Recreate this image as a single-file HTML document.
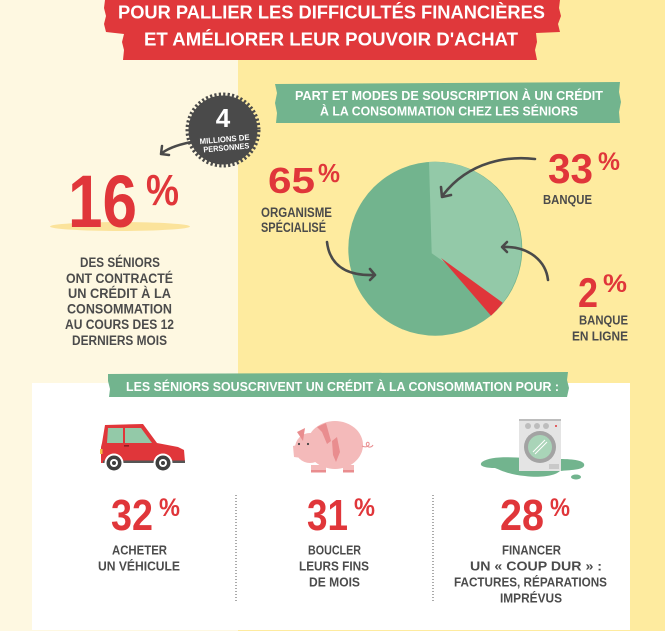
<!DOCTYPE html>
<html><head><meta charset="utf-8">
<style>
html,body{margin:0;padding:0;background:#FEF8E1;}
svg{display:block;}
text{font-family:"Liberation Sans","DejaVu Sans",sans-serif;font-weight:bold;}
.g{fill:#4B4B4B;}
.r{fill:#E0363A;}
.w{fill:#FFFFFF;}
</style></head>
<body>
<svg width="665" height="631" viewBox="0 0 665 631" xmlns="http://www.w3.org/2000/svg">
<!-- backgrounds -->
<rect x="0" y="0" width="665" height="631" fill="#FEEB9F"/>
<rect x="0" y="0" width="238" height="631" fill="#FEF8E1"/>

<!-- title banner -->
<path d="M105,0 L560,0 L559,8 L561,16 L558,24 L560,32 L536,33 L537,42 L535,50 L537,60 L123,60 L124,50 L122,42 L124,34 L106,32 L104,24 L106,16 L104,8 Z" fill="#E0383B"/>
<text class="w" x="118" y="18.5" font-size="18" textLength="427" lengthAdjust="spacingAndGlyphs">POUR PALLIER LES DIFFICULTÉS FINANCIÈRES</text>
<text class="w" x="144" y="45.5" font-size="18" textLength="374" lengthAdjust="spacingAndGlyphs">ET AMÉLIORER LEUR POUVOIR D'ACHAT</text>

<!-- badge -->
<circle cx="223" cy="130" r="34.5" fill="#4A4A4A"/>
<circle cx="223" cy="130" r="35.5" fill="none" stroke="#4A4A4A" stroke-width="4" stroke-dasharray="2.2 2.2"/>
<text class="w" x="223" y="127" font-size="26" text-anchor="middle">4</text>
<g transform="rotate(-5 225 144)">
<text class="w" x="225" y="142" font-size="8" text-anchor="middle" textLength="50" lengthAdjust="spacingAndGlyphs">MILLIONS DE</text>
<text class="w" x="226" y="150.5" font-size="8" text-anchor="middle" textLength="46" lengthAdjust="spacingAndGlyphs">PERSONNES</text>
</g>
<!-- badge arrow -->
<path d="M197,141 C185,143 170,147 162,153" fill="none" stroke="#4A4A4A" stroke-width="2.5" stroke-linecap="round"/>
<path d="M162,146 L161,154 L169,155" fill="none" stroke="#4A4A4A" stroke-width="2.5" stroke-linecap="round" stroke-linejoin="round"/>

<!-- 16% -->
<ellipse cx="120" cy="226.5" rx="70" ry="4.5" fill="#FBE39B"/>
<text class="r" x="68" y="227" font-size="74" textLength="69" lengthAdjust="spacingAndGlyphs">16</text>
<text class="r" x="146" y="205" font-size="44" textLength="33" lengthAdjust="spacingAndGlyphs">%</text>

<text class="g" x="120" y="267" font-size="13.5" text-anchor="middle" textLength="80" lengthAdjust="spacingAndGlyphs">DES SÉNIORS</text>
<text class="g" x="119.5" y="283" font-size="13.5" text-anchor="middle" textLength="107" lengthAdjust="spacingAndGlyphs">ONT CONTRACTÉ</text>
<text class="g" x="119.5" y="298" font-size="13.5" text-anchor="middle" textLength="103" lengthAdjust="spacingAndGlyphs">UN CRÉDIT À LA</text>
<text class="g" x="119.5" y="313.5" font-size="13.5" text-anchor="middle" textLength="105" lengthAdjust="spacingAndGlyphs">CONSOMMATION</text>
<text class="g" x="119.5" y="329" font-size="13.5" text-anchor="middle" textLength="109" lengthAdjust="spacingAndGlyphs">AU COURS DES 12</text>
<text class="g" x="119.5" y="345" font-size="13.5" text-anchor="middle" textLength="95" lengthAdjust="spacingAndGlyphs">DERNIERS MOIS</text>

<!-- pie banner -->
<path d="M275,84 L620,82 L619,92 L621,102 L619,112 L620,123 L276,123 L277,113 L275,103 L277,93 Z" fill="#72B48E"/>
<text class="w" x="295" y="100" font-size="12.5" textLength="308" lengthAdjust="spacingAndGlyphs">PART ET MODES DE SOUSCRIPTION À UN CRÉDIT</text>
<text class="w" x="320" y="115.5" font-size="12.5" textLength="258" lengthAdjust="spacingAndGlyphs">À LA CONSOMMATION CHEZ LES SÉNIORS</text>

<!-- pie -->
<circle cx="435.3" cy="248.7" r="87" fill="#72B48E"/>
<path d="M431.7,253.3 L429,161.9 A87,87 0 0,1 502.7,302.7 Z" fill="#93C9A8"/>
<path d="M441,258 L502.7,302.7 A87,87 0 0,1 491,315.7 Z" fill="#E0363A"/>

<!-- pie labels -->
<text class="r" x="268" y="193" font-size="36" textLength="47" lengthAdjust="spacingAndGlyphs">65</text>
<text class="r" x="318" y="182" font-size="26" textLength="22" lengthAdjust="spacingAndGlyphs">%</text>
<text class="g" x="261" y="217" font-size="13.5" textLength="71" lengthAdjust="spacingAndGlyphs">ORGANISME</text>
<text class="g" x="261" y="232" font-size="13.5" textLength="65" lengthAdjust="spacingAndGlyphs">SPÉCIALISÉ</text>

<text class="r" x="548" y="183" font-size="42" textLength="45" lengthAdjust="spacingAndGlyphs">33</text>
<text class="r" x="598" y="170" font-size="25" textLength="22" lengthAdjust="spacingAndGlyphs">%</text>
<text class="g" x="543" y="204" font-size="13" textLength="49" lengthAdjust="spacingAndGlyphs">BANQUE</text>

<text class="r" x="578" y="307" font-size="42" textLength="20" lengthAdjust="spacingAndGlyphs">2</text>
<text class="r" x="603" y="292" font-size="25" textLength="24" lengthAdjust="spacingAndGlyphs">%</text>
<text class="g" x="579" y="324.5" font-size="13" textLength="49" lengthAdjust="spacingAndGlyphs">BANQUE</text>
<text class="g" x="572" y="340.5" font-size="13" textLength="56" lengthAdjust="spacingAndGlyphs">EN LIGNE</text>

<!-- pie arrows -->
<g fill="none" stroke="#4A4A4A" stroke-width="2.6" stroke-linecap="round" stroke-linejoin="round">
<path d="M535,159 C510,156 470,160 443,195"/>
<path d="M441,187 L442,197 L451,195"/>
<path d="M548,280 C546,262 530,246 503,247"/>
<path d="M507,242 L502,247 L507,252"/>
<path d="M327,242 C330,268 350,276 375,275"/>
<path d="M370,269 L375,275 L370,280"/>
</g>

<!-- white panel -->
<rect x="32" y="383" width="598" height="247" fill="#FFFFFF"/>

<!-- bottom banner -->
<path d="M108,374 L568,372 L567,380 L569,388 L567,397 L109,397 L110,389 L108,381 Z" fill="#72B48E"/>
<text class="w" x="126" y="391" font-size="12.5" textLength="433" lengthAdjust="spacingAndGlyphs">LES SÉNIORS SOUSCRIVENT UN CRÉDIT À LA CONSOMMATION POUR :</text>

<!-- car -->
<path d="M105,425 L143,424 L157,443 L178,447 L184,450 L185,462 L101,463 L101,447 L102,443 Z" fill="#E0363A"/>
<path d="M108,428 L123,428 L123,443 L107,443 Z" fill="#93C9A8"/>
<path d="M125,428 L141,428 L152,443 L125,443 Z" fill="#93C9A8"/>
<rect x="124" y="445" width="5" height="1.6" fill="#8B1F22"/>
<rect x="100" y="449" width="2.5" height="5" fill="#F5C04A"/>
<rect x="103" y="460.5" width="82" height="2.5" fill="#555555"/>
<circle cx="114" cy="463" r="9.5" fill="#FFFFFF"/>
<circle cx="163" cy="463" r="9.5" fill="#FFFFFF"/>
<circle cx="114" cy="463" r="7.5" fill="#3F3F3F"/>
<circle cx="114" cy="463" r="4" fill="#FFFFFF"/>
<circle cx="114" cy="463" r="2" fill="#3F3F3F"/>
<circle cx="163" cy="463" r="7.5" fill="#3F3F3F"/>
<circle cx="163" cy="463" r="4" fill="#FFFFFF"/>
<circle cx="163" cy="463" r="2" fill="#3F3F3F"/>

<!-- pig -->
<ellipse cx="335" cy="445" rx="28" ry="24" fill="#F4BABA"/>
<circle cx="310" cy="448" r="15" fill="#F4BABA"/>
<path d="M293,446 L301,444 L302,458 L294,457 Z" fill="#F4BABA"/>
<path d="M297,432 L305,428 L303,441 Z" fill="#E98D8F"/>
<path d="M317,427 L326,423 L331,441 L327,444 L322,432 Z" fill="#E98D8F"/>
<path d="M332,441 L337,437 L340,452 L336,462 L333,455 Z" fill="#E98D8F"/>
<circle cx="299" cy="444" r="1.1" fill="#444"/>
<circle cx="308" cy="444" r="1.1" fill="#444"/>
<rect x="311" y="465" width="15" height="7" fill="#F4BABA"/>
<rect x="311" y="470" width="15" height="2.5" fill="#E98D8F"/>
<rect x="343" y="465" width="11" height="7" fill="#F4BABA"/>
<rect x="343" y="470" width="11" height="2.5" fill="#E98D8F"/>
<path d="M362,446 C366,448 370,446 369,443 C368,441 365,443 367,446 C369,448 372,447 373,445" fill="none" stroke="#E98D8F" stroke-width="1"/>

<!-- washing machine -->
<path d="M482,462 C490,456 510,457 525,458 L560,459 C575,459 586,461 584,466 C582,470 570,470 560,471 C555,476 540,478 525,476 C510,475 500,470 495,468 C485,468 478,466 482,462 Z" fill="#72B48E"/>
<ellipse cx="576" cy="477" rx="5" ry="2.5" fill="#72B48E"/>
<rect x="519" y="419" width="42" height="52" fill="#E4E4E4"/>
<rect x="519" y="419" width="42" height="2" fill="#BDBDBD"/>
<circle cx="528" cy="426" r="3" fill="#BDBDBD"/>
<circle cx="537" cy="426" r="3" fill="#BDBDBD"/>
<circle cx="546" cy="426" r="3" fill="#BDBDBD"/>
<circle cx="556" cy="426" r="1" fill="#E0363A"/>
<circle cx="540" cy="447" r="16" fill="#A3A3A3"/>
<circle cx="540" cy="447" r="12" fill="#A9D4B8"/>
<path d="M533,452 L545,440 M535,454 L547,442" stroke="#FFFFFF" stroke-width="1"/>
<rect x="549" y="464" width="10" height="5" fill="#C9C9C9"/>

<!-- dividers -->
<line x1="236" y1="495" x2="236" y2="603" stroke="#555" stroke-width="1" stroke-dasharray="1 2"/>
<line x1="433" y1="495" x2="433" y2="603" stroke="#555" stroke-width="1" stroke-dasharray="1 2"/>

<!-- bottom stats -->
<text class="r" x="111" y="530" font-size="44" textLength="42" lengthAdjust="spacingAndGlyphs">32</text>
<text class="r" x="159" y="516" font-size="25" textLength="21" lengthAdjust="spacingAndGlyphs">%</text>
<text class="g" x="139.5" y="554.5" font-size="13" text-anchor="middle" textLength="55" lengthAdjust="spacingAndGlyphs">ACHETER</text>
<text class="g" x="139" y="570.5" font-size="13" text-anchor="middle" textLength="82" lengthAdjust="spacingAndGlyphs">UN VÉHICULE</text>

<text class="r" x="307" y="530" font-size="44" textLength="41" lengthAdjust="spacingAndGlyphs">31</text>
<text class="r" x="354" y="516" font-size="25" textLength="21" lengthAdjust="spacingAndGlyphs">%</text>
<text class="g" x="334.5" y="554.5" font-size="13" text-anchor="middle" textLength="53" lengthAdjust="spacingAndGlyphs">BOUCLER</text>
<text class="g" x="334" y="570.5" font-size="13" text-anchor="middle" textLength="70" lengthAdjust="spacingAndGlyphs">LEURS FINS</text>
<text class="g" x="334.5" y="586.5" font-size="13" text-anchor="middle" textLength="51" lengthAdjust="spacingAndGlyphs">DE MOIS</text>

<text class="r" x="500" y="530" font-size="44" textLength="44" lengthAdjust="spacingAndGlyphs">28</text>
<text class="r" x="550" y="516" font-size="25" textLength="20" lengthAdjust="spacingAndGlyphs">%</text>
<text class="g" x="531.5" y="554.5" font-size="13" text-anchor="middle" textLength="59" lengthAdjust="spacingAndGlyphs">FINANCER</text>
<text class="g" x="536" y="570.5" font-size="13" text-anchor="middle" textLength="132" lengthAdjust="spacingAndGlyphs">UN « COUP DUR » :</text>
<text class="g" x="530.5" y="586.5" font-size="13" text-anchor="middle" textLength="153" lengthAdjust="spacingAndGlyphs">FACTURES, RÉPARATIONS</text>
<text class="g" x="531" y="602.5" font-size="13" text-anchor="middle" textLength="62" lengthAdjust="spacingAndGlyphs">IMPRÉVUS</text>
</svg>
</body></html>
